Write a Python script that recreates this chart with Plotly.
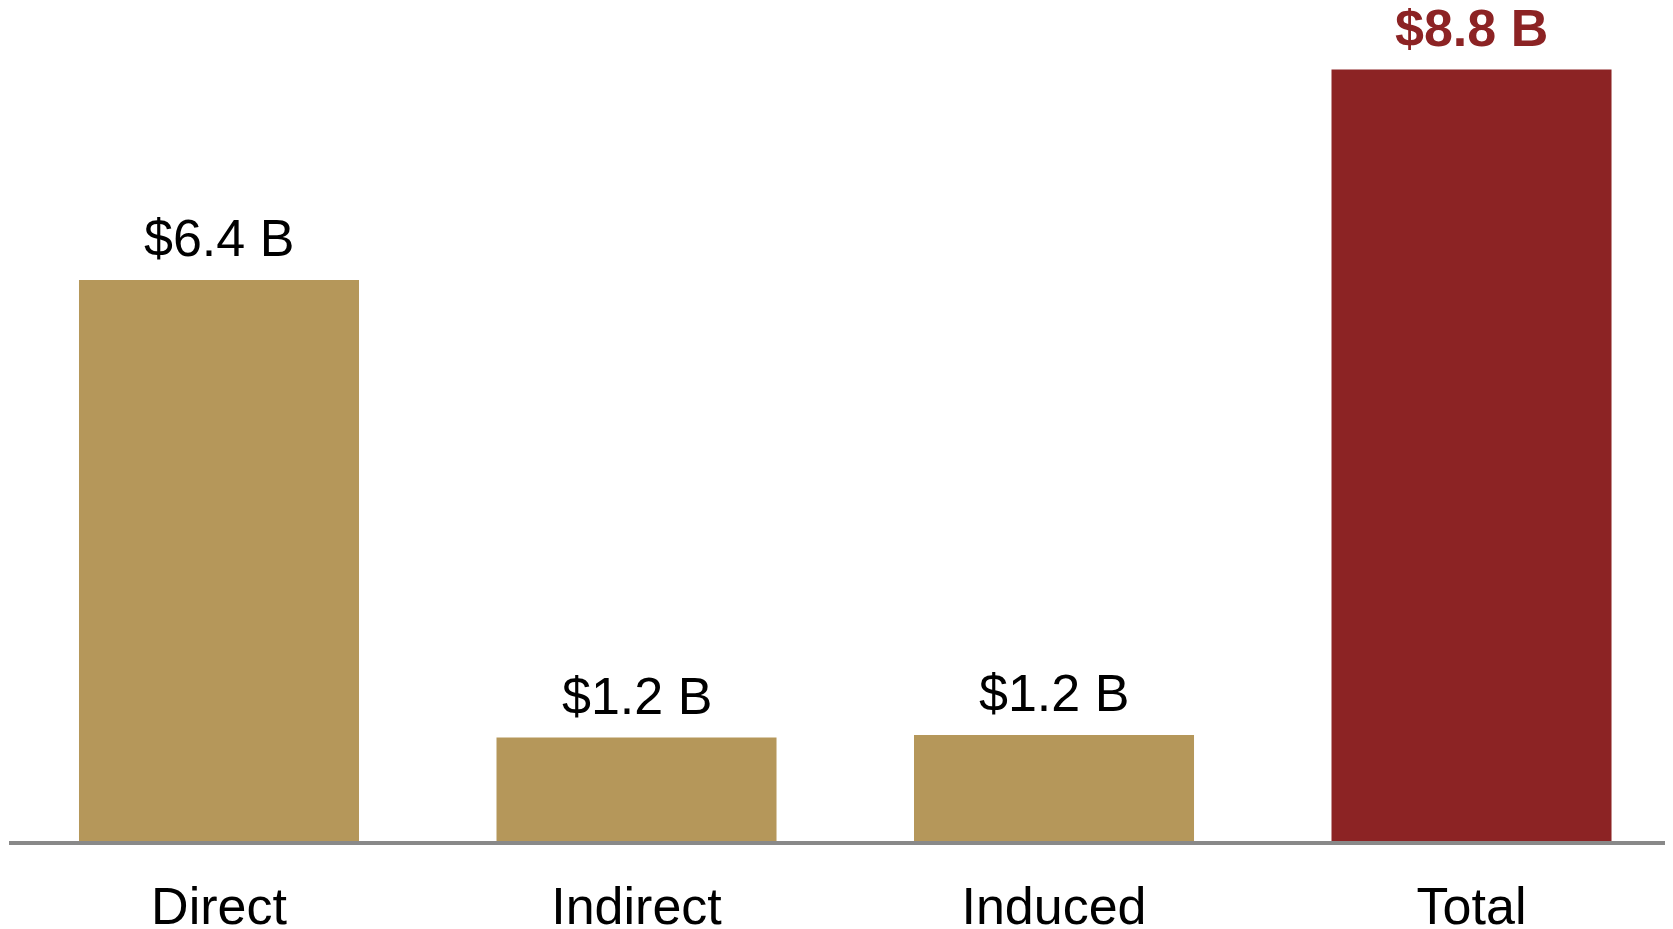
import plotly.graph_objects as go

categories = ["Direct", "Indirect", "Induced", "Total"]
values = [6.4, 1.18, 1.21, 8.8]
value_labels = ["$6.4 B", "$1.2 B", "$1.2 B", "$8.8 B"]
bar_colors = ["#B5975A", "#B5975A", "#B5975A", "#8C2324"]
label_colors = ["#000000", "#000000", "#000000", "#8C2324"]
label_bold = [False, False, False, True]

FONT = "Liberation Sans, Arial, sans-serif"

fig = go.Figure(go.Bar(
    x=categories,
    y=values,
    width=0.6707,
    marker=dict(color=bar_colors, line=dict(width=0)),
    hoverinfo="skip",
))

for cat, val, lab, col, bold in zip(categories, values, value_labels, label_colors, label_bold):
    fig.add_annotation(
        x=cat, y=val, xref="x", yref="y",
        text=f"<b>{lab}</b>" if bold else lab,
        showarrow=False, yanchor="bottom", xanchor="center",
        yshift=11,
        font=dict(family=FONT, size=52, color=col),
    )

fig.update_layout(
    width=1665, height=921,
    margin=dict(l=1, r=0, t=0, b=88, autoexpand=False),
    paper_bgcolor="white", plot_bgcolor="white",
    showlegend=False,
    xaxis=dict(
        range=[-0.503, 3.4826],
        automargin=False,
        showline=True, linecolor="#898989", linewidth=4,
        showgrid=False, zeroline=False, ticks="",
        tickfont=dict(family=FONT, size=52, color="#000000"),
        ticklabelstandoff=17,
    ),
    yaxis=dict(
        range=[0, 9.503],
        automargin=False,
        showline=False, showgrid=False, zeroline=False,
        showticklabels=False, ticks="",
    ),
)

fig.write_html("out.html")
